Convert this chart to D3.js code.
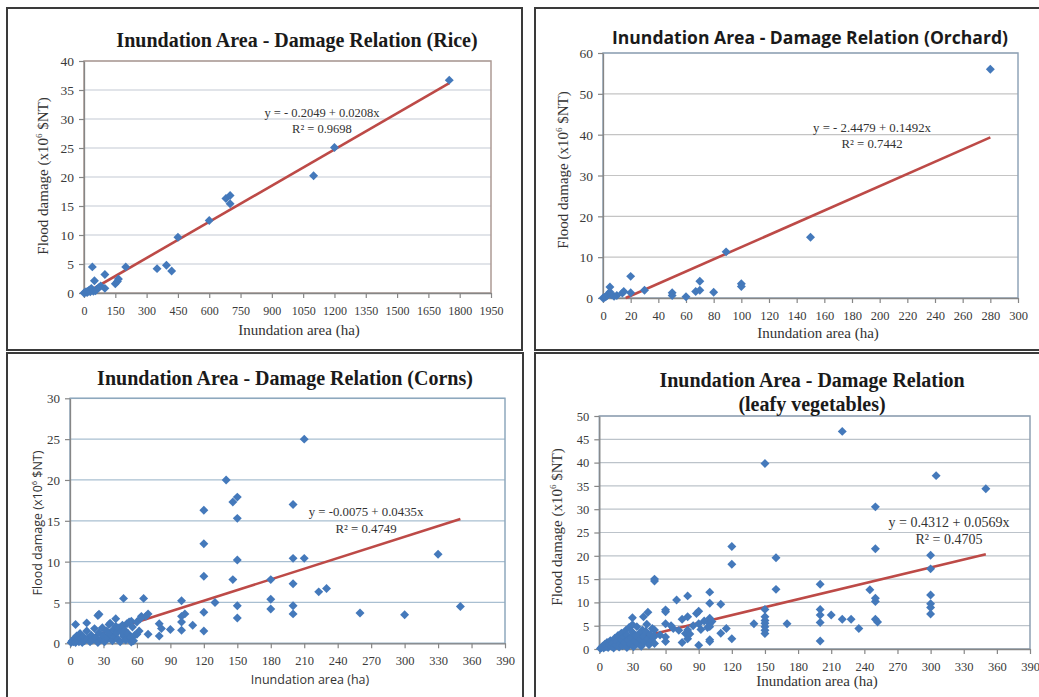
<!DOCTYPE html>
<html><head><meta charset="utf-8">
<script src="https://cdn.jsdelivr.net/npm/d3@7"></script>
<style>body{margin:0;background:#fff}</style>
</head><body><svg id="c" width="1039" height="697"></svg>
<script>
// ---------------- DATA ----------------
const ricePoints = [[0,0],[5,0.1],[10,0.2],[15,0.1],[20,0.3],[25,0.5],[30,0.2],[35,0.8],[40,4.5],[45,0.3],[50,2.1],[55,0.4],[60,0.6],[70,0.9],[80,1.2],[100,3.2],[100,0.8],[150,1.6],[160,2.0],[165,2.4],[200,4.5],[350,4.2],[395,4.8],[420,3.8],[450,9.6],[600,12.5],[680,16.3],[700,16.8],[700,15.4],[1100,20.2],[1200,25.1],[1750,36.7]];
const orchardPoints = [[0,0],[1,0.1],[2,0.3],[3,0.6],[4,1.0],[5,2.7],[5,1.5],[6,0.8],[8,0.4],[10,0.6],[14,1.2],[15,1.6],[20,5.3],[20,1.3],[30,1.9],[50,1.3],[50,0.6],[60,0.3],[67,1.6],[70,4.1],[70,1.9],[80,1.4],[89,11.3],[100,3.5],[100,2.8],[150,14.9],[280,56]];
const cornPoints = [[210,25],[140,20.0],[146,17.3],[150,17.9],[150,15.3],[120,16.3],[120,12.2],[120,8.2],[120,3.8],[120,1.5],[146,7.8],[150,10.2],[150,4.6],[150,3.1],[130,5.0],[200,17.0],[200,10.4],[210,10.4],[200,7.3],[200,4.6],[200,3.6],[180,7.8],[180,5.4],[180,4.2],[223,6.3],[230,6.7],[260,3.7],[300,3.5],[330,10.9],[350,4.5],[100,5.2],[100,3.3],[100,2.6],[100,1.6],[103,3.6],[110,2.2],[90,1.7],[80,2.4],[80,0.9],[82,1.8],[70,1.1],[70,3.6],[68,3.3],[66,5.5],[48,5.5],[25,3.4],[41,3.0],[15,2.5],[5,2.3],[55,2.7],[64,3.3],[60,1.1],[55,0.15],[36,2.45],[26,3.55],
 [1,0.1],[2,0.3],[3,0.2],[4,0.6],[5,0.1],[6,0.9],[7,0.4],[8,0.2],[9,1.2],[10,0.5],[11,0.1],[12,0.8],[13,0.3],[15,1.5],[16,0.6],[18,0.2],[19,1.0],[20,0.4],[22,1.8],[23,0.7],[25,0.1],[26,1.3],[28,0.5],[29,1.9],[30,0.9],[31,0.2],[33,1.5],[34,0.6],[35,2.3],[36,1.1],[38,0.3],[39,1.7],[40,0.8],[41,2.1],[42,1.3],[43,0.5],[44,1.9],[45,0.2],[46,1.4],[47,2.2],[48,0.9],[49,1.6],[50,0.4],[51,2.4],[52,1.2],[53,2.6],[54,0.7],[56,2.0],[57,0.3],[58,1.0],[60,2.6],[62,1.5],[63,3.0]];
const leafyPoints = [[1,0.1],[2,0.3],[3,0.6],[4,0.2],[5,1.0],[6,0.5],[7,1.4],[8,0.3],[9,0.9],[10,1.8],[11,0.6],[12,1.2],[13,0.2],[14,2.3],[15,0.8],[16,1.6],[17,2.9],[18,0.4],[19,1.1],[20,3.4],[20,2.0],[21,0.7],[22,2.6],[23,1.4],[24,4.0],[25,0.3],[25,3.0],[26,1.9],[27,4.6],[28,1.0],[29,2.4],[30,5.2],[30,6.7],[30,3.6],[31,0.5],[32,1.7],[33,2.9],[34,4.8],[35,1.2],[36,3.3],[37,2.1],[38,0.6],[39,4.1],[40,6.9],[40,2.7],[41,1.5],[42,3.8],[43,5.3],[44,7.9],[44,2.2],[45,0.9],[46,3.1],[47,1.8],[48,4.4],[49,2.5],[50,15.0],[50,14.6],[50,4.1],[50,1.2],[50,2.8],
 [55,3.0],[60,8.4],[60,8.0],[60,5.4],[60,1.6],[60,2.6],[65,5.0],[67,4.4],[70,10.5],[72,4.0],[75,6.4],[75,1.4],[78,3.3],[80,11.4],[80,6.9],[80,4.1],[80,2.2],[82,3.2],[85,5.0],[88,7.6],[90,8.1],[90,5.4],[90,0.8],[92,4.2],[95,6.0],[98,4.6],[100,12.2],[100,9.8],[100,6.6],[100,5.4],[100,4.8],[100,2.0],[100,1.6],[102,5.9],[110,9.6],[110,3.4],[115,4.4],[120,22.0],[120,18.2],[120,2.2],[140,5.4],[150,39.8],[150,8.5],[150,6.9],[150,6.1],[150,5.5],[150,4.8],[150,4.0],[150,3.3],[160,19.6],[160,12.8],[170,5.4],[200,13.9],[200,8.5],[200,7.3],[200,5.7],[200,1.7],[210,7.3],[220,46.7],[220,6.4],[228,6.4],[235,4.4],[245,12.7],[250,30.5],[250,21.5],[250,10.9],[250,10.2],[250,6.4],[252,5.8],[300,20.1],[300,17.2],[300,11.6],[300,9.7],[300,8.9],[300,7.5],[305,37.2],[350,34.4]];

const riceFit = [-0.2049, 0.0208];
const orchardFit = [-2.4479, 0.1492];
const cornFit = [-0.0075, 0.0435];
const leafyFit = [0.4312, 0.0569];

const riceXTicks = d3.range(0, 1951, 150);
const riceYTicks = d3.range(0, 41, 5);
const orchardXTicks = d3.range(0, 301, 20);
const orchardYTicks = d3.range(0, 61, 10);
const cornXTicks = d3.range(0, 391, 30);
const cornYTicks = d3.range(0, 31, 5);
const leafyXTicks = d3.range(0, 391, 30);
const leafyYTicks = d3.range(0, 51, 5);

const titles = {
  rice: ["Inundation Area - Damage Relation (Rice)"],
  orchard: ["Inundation Area - Damage Relation (Orchard)"],
  corn: ["Inundation Area - Damage Relation (Corns)"],
  leafy: ["Inundation Area - Damage Relation", "(leafy vegetables)"]
};
const equations = {
  rice: ["y = - 0.2049 + 0.0208x", "R² = 0.9698"],
  orchard: ["y = - 2.4479 + 0.1492x", "R² = 0.7442"],
  corn: ["y = -0.0075 + 0.0435x", "R² = 0.4749"],
  leafy: ["y = 0.4312 + 0.0569x", "R² = 0.4705"]
};
const xAxisTitle = "Inundation area (ha)";
const yAxisTitle = ["Flood damage (x10", "6", " $NT)"];

// ---------------- LAYOUT ----------------
const SERIF = "'Liberation Serif', 'DejaVu Serif', serif";
const SANS = "'Open Sans', 'Noto Sans', sans-serif";

const panels = [
  {key:"rice", pts:ricePoints, fit:riceFit, xT:riceXTicks, yT:riceYTicks,
   frame:[7,8,515,342], plot:{l:84,r:491,t:61,b:293},
   titleFont:SERIF, titleSize:20, titleX:297, titleY:[47], titleLen:null,
   eqX:322, eqY:[117,133], eqSize:12.5,
   labFont:SERIF, labSize:15, xLabX:299, xLabY:335, yLabX:48, yLabY:176,
   grid:"#c3cad3", border:"#ad9a94", xTickSize:12, yTickSize:13.5},
  {key:"orchard", pts:orchardPoints, fit:orchardFit, xT:orchardXTicks, yT:orchardYTicks,
   frame:[535,8,520,342], plot:{l:603,r:1018,t:53,b:298},
   titleFont:SANS, titleSize:17, titleX:810, titleY:[44], titleLen:396,
   eqX:872, eqY:[131.5,148], eqSize:12.8,
   labFont:SERIF, labSize:15, xLabX:818, xLabY:338, yLabX:568, yLabY:170,
   grid:"#c4c4c4", border:"#90a4b8", xTickSize:12.5, yTickSize:13.5},
  {key:"corn", pts:cornPoints, fit:cornFit, xT:cornXTicks, yT:cornYTicks,
   frame:[7,353,516,350], plot:{l:70,r:505,t:398.3,b:643.3},
   titleFont:SERIF, titleSize:20, titleX:285, titleY:[384.5], titleLen:null,
   eqX:366, eqY:[515.5,533], eqSize:12.8,
   labFont:SANS, labSize:12.5, xLabX:310, xLabY:684, yLabX:42, yLabY:523,
   grid:"#a9bfd1", border:"#8ea8bd", xTickSize:12.5, yTickSize:13},
  {key:"leafy", pts:leafyPoints, fit:leafyFit, xT:leafyXTicks, yT:leafyYTicks,
   frame:[535,353,520,350], plot:{l:599.3,r:1030,t:416,b:649},
   titleFont:SERIF, titleSize:20, titleX:812, titleY:[387,411], titleLen:null,
   eqX:949, eqY:[527,544], eqSize:14,
   labFont:SERIF, labSize:15, xLabX:817, xLabY:686, yLabX:562, yLabY:527,
   grid:"#bcc3ca", border:"#8fa0b2", xTickSize:12.5, yTickSize:12.5}
];

const svg = d3.select("#c");
svg.append("rect").attr("width",1039).attr("height",697).attr("fill","#fff");

const diamond = d3.symbol().type(d3.symbolSquare).size(40);

panels.forEach(p => {
  const g = svg.append("g");
  g.append("rect").attr("x",p.frame[0]).attr("y",p.frame[1])
    .attr("width",p.frame[2]).attr("height",p.frame[3])
    .attr("fill","#fff").attr("stroke","#3a3a3a").attr("stroke-width",2);

  const x = d3.scaleLinear().domain([p.xT[0], p.xT[p.xT.length-1]]).range([p.plot.l, p.plot.r]);
  const y = d3.scaleLinear().domain([p.yT[0], p.yT[p.yT.length-1]]).range([p.plot.b, p.plot.t]);

  // gridlines
  g.append("g").selectAll("line").data(p.yT.slice(1)).join("line")
    .attr("x1",p.plot.l).attr("x2",p.plot.r)
    .attr("y1",d=>y(d)).attr("y2",d=>y(d))
    .attr("stroke",p.grid).attr("stroke-width",1.2);

  // plot border
  g.append("rect").attr("x",p.plot.l).attr("y",p.plot.t)
    .attr("width",p.plot.r-p.plot.l).attr("height",p.plot.b-p.plot.t)
    .attr("fill","none").attr("stroke",p.border).attr("stroke-width",1.5);

  // axes
  const xa = g.append("g").attr("transform",`translate(0,${p.plot.b})`)
    .call(d3.axisBottom(x).tickValues(p.xT).tickSize(5).tickSizeOuter(0).tickFormat(d3.format("d")));
  xa.selectAll("text").attr("y",22).attr("dy",0)
    .style("font-family",SERIF).style("font-size",p.xTickSize+"px").attr("fill","#3a3a3a");
  const ya = g.append("g").attr("transform",`translate(${p.plot.l},0)`)
    .call(d3.axisLeft(y).tickValues(p.yT).tickSize(5).tickSizeOuter(0).tickFormat(d3.format("d")));
  ya.selectAll("text").attr("x",-10).attr("dy","0.35em")
    .style("font-family",SERIF).style("font-size",p.yTickSize+"px").attr("fill","#3a3a3a");
  [xa, ya].forEach(a => {
    a.select(".domain").attr("stroke","#868686").attr("stroke-width",1.3);
    a.selectAll(".tick line").attr("stroke","#868686").attr("stroke-width",1.2);
  });

  // trend line
  const [a, b] = p.fit;
  const xs = p.pts.map(d=>d[0]);
  const x0 = Math.max(d3.min(xs), a < 0 ? -a/b : d3.min(xs));
  const x1 = d3.max(xs);
  g.append("path")
    .datum([[x0, a + b*x0],[x1, a + b*x1]])
    .attr("d", d3.line().x(d=>x(d[0])).y(d=>y(d[1])))
    .attr("stroke","#bd4a47").attr("stroke-width",2.6).attr("fill","none");

  // points
  g.append("g").selectAll("path").data(p.pts).join("path")
    .attr("d", diamond)
    .attr("transform", d=>`translate(${x(d[0])},${y(d[1])}) rotate(45)`)
    .attr("fill","#4479bb");

  // title
  titles[p.key].forEach((t,i) => {
    const tt = g.append("text").attr("x",p.titleX).attr("y",p.titleY[i])
      .attr("text-anchor","middle").style("font-family",p.titleFont)
      .style("font-size",p.titleSize+"px").style("font-weight","bold").attr("fill","#1a1a1a").text(t);
    if (p.titleLen) tt.attr("textLength",p.titleLen).attr("lengthAdjust","spacingAndGlyphs");
  });

  // equation
  equations[p.key].forEach((t,i) => {
    g.append("text").attr("x",p.eqX).attr("y",p.eqY[i]).attr("text-anchor","middle")
      .style("font-family",SERIF).style("font-size",p.eqSize+"px").attr("fill","#333").text(t);
  });

  // axis titles
  g.append("text").attr("x",p.xLabX).attr("y",p.xLabY).attr("text-anchor","middle")
    .style("font-family",p.labFont).style("font-size",p.labSize+"px").attr("fill","#333").text(xAxisTitle);
  const yl = g.append("text").attr("transform",`translate(${p.yLabX},${p.yLabY}) rotate(-90)`)
    .attr("text-anchor","middle").style("font-family",p.labFont).style("font-size",p.labSize+"px").attr("fill","#333");
  yl.append("tspan").text(yAxisTitle[0]);
  yl.append("tspan").attr("dy",-p.labSize*0.4).style("font-size",(p.labSize*0.6)+"px").text(yAxisTitle[1]);
  yl.append("tspan").attr("dy",p.labSize*0.4).text(yAxisTitle[2]);
});
</script>
</body></html>
